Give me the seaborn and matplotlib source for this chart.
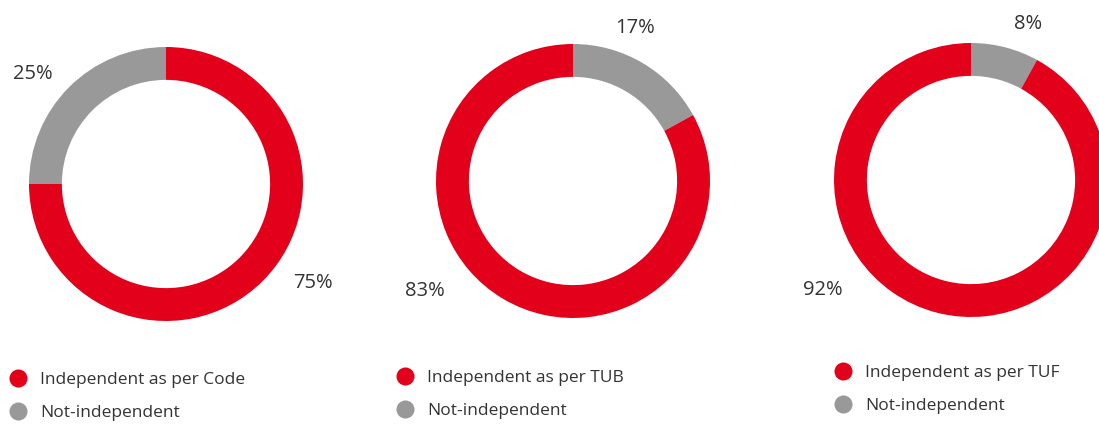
import numpy as np
import matplotlib
matplotlib.use("Agg")
import matplotlib.pyplot as plt
from matplotlib.lines import Line2D
import seaborn as sns

# data
groups = ["Code", "TUB", "TUF"]
independent = [75, 83, 92]
not_independent = [25, 17, 8]
legend_labels = ["Independent as per Code", "Independent as per TUB", "Independent as per TUF"]
other_label = "Not-independent"

sns.set_theme(style="white")
plt.rcParams["font.family"] = ["Open Sans", "DejaVu Sans"]

RED = "#E2001A"
GREY = "#999999"
TXT = "#333333"

W, H = 1099, 424
fig = plt.figure(figsize=(W / 100, H / 100), dpi=100)
fig.patch.set_facecolor("white")

# layout (pixels): donut centres, radius, label spots, legend anchors
centres = [(166, 184), (573, 181), (971, 180)]
R = 137
ind_pos = [(1.07, -0.72), (-1.08, -0.80), (-1.08, -0.80)]
not_pos = [(-0.97, 0.80), (0.45, 1.12), (0.42, 1.14)]
legend_xy = [(1, 372), (388, 370), (826, 365)]

for i, (cx, cy) in enumerate(centres):
    ax = fig.add_axes([(cx - R) / W, 1 - (cy + R) / H, 2 * R / W, 2 * R / H])
    # grey slice runs from 12 o'clock; first donut goes counter-clockwise
    ax.pie([not_independent[i], independent[i]], colors=[GREY, RED],
           startangle=90, counterclock=(i == 0), radius=1,
           wedgeprops=dict(width=0.24, edgecolor="none"))
    ax.set_xlim(-1, 1)
    ax.set_ylim(-1, 1)
    ax.axis("off")

    ax.text(*ind_pos[i], f"{independent[i]}%", ha="center", va="center",
            fontsize=14.5, color=TXT)
    ax.text(*not_pos[i], f"{not_independent[i]}%", ha="center", va="center",
            fontsize=14.5, color=TXT)

    handles = [
        Line2D([], [], marker="o", linestyle="none", markersize=13,
               markerfacecolor=RED, markeredgecolor="none"),
        Line2D([], [], marker="o", linestyle="none", markersize=13,
               markerfacecolor=GREY, markeredgecolor="none"),
    ]
    lx, ly = legend_xy[i]
    fig.legend(handles, [legend_labels[i], other_label], loc="upper left",
               bbox_to_anchor=(lx / W, 1 - ly / H), frameon=False,
               fontsize=12.5, labelcolor=TXT, handletextpad=0.25,
               labelspacing=0.95, borderaxespad=0, borderpad=0)

fig.savefig("out.png", dpi=100, facecolor="white")
